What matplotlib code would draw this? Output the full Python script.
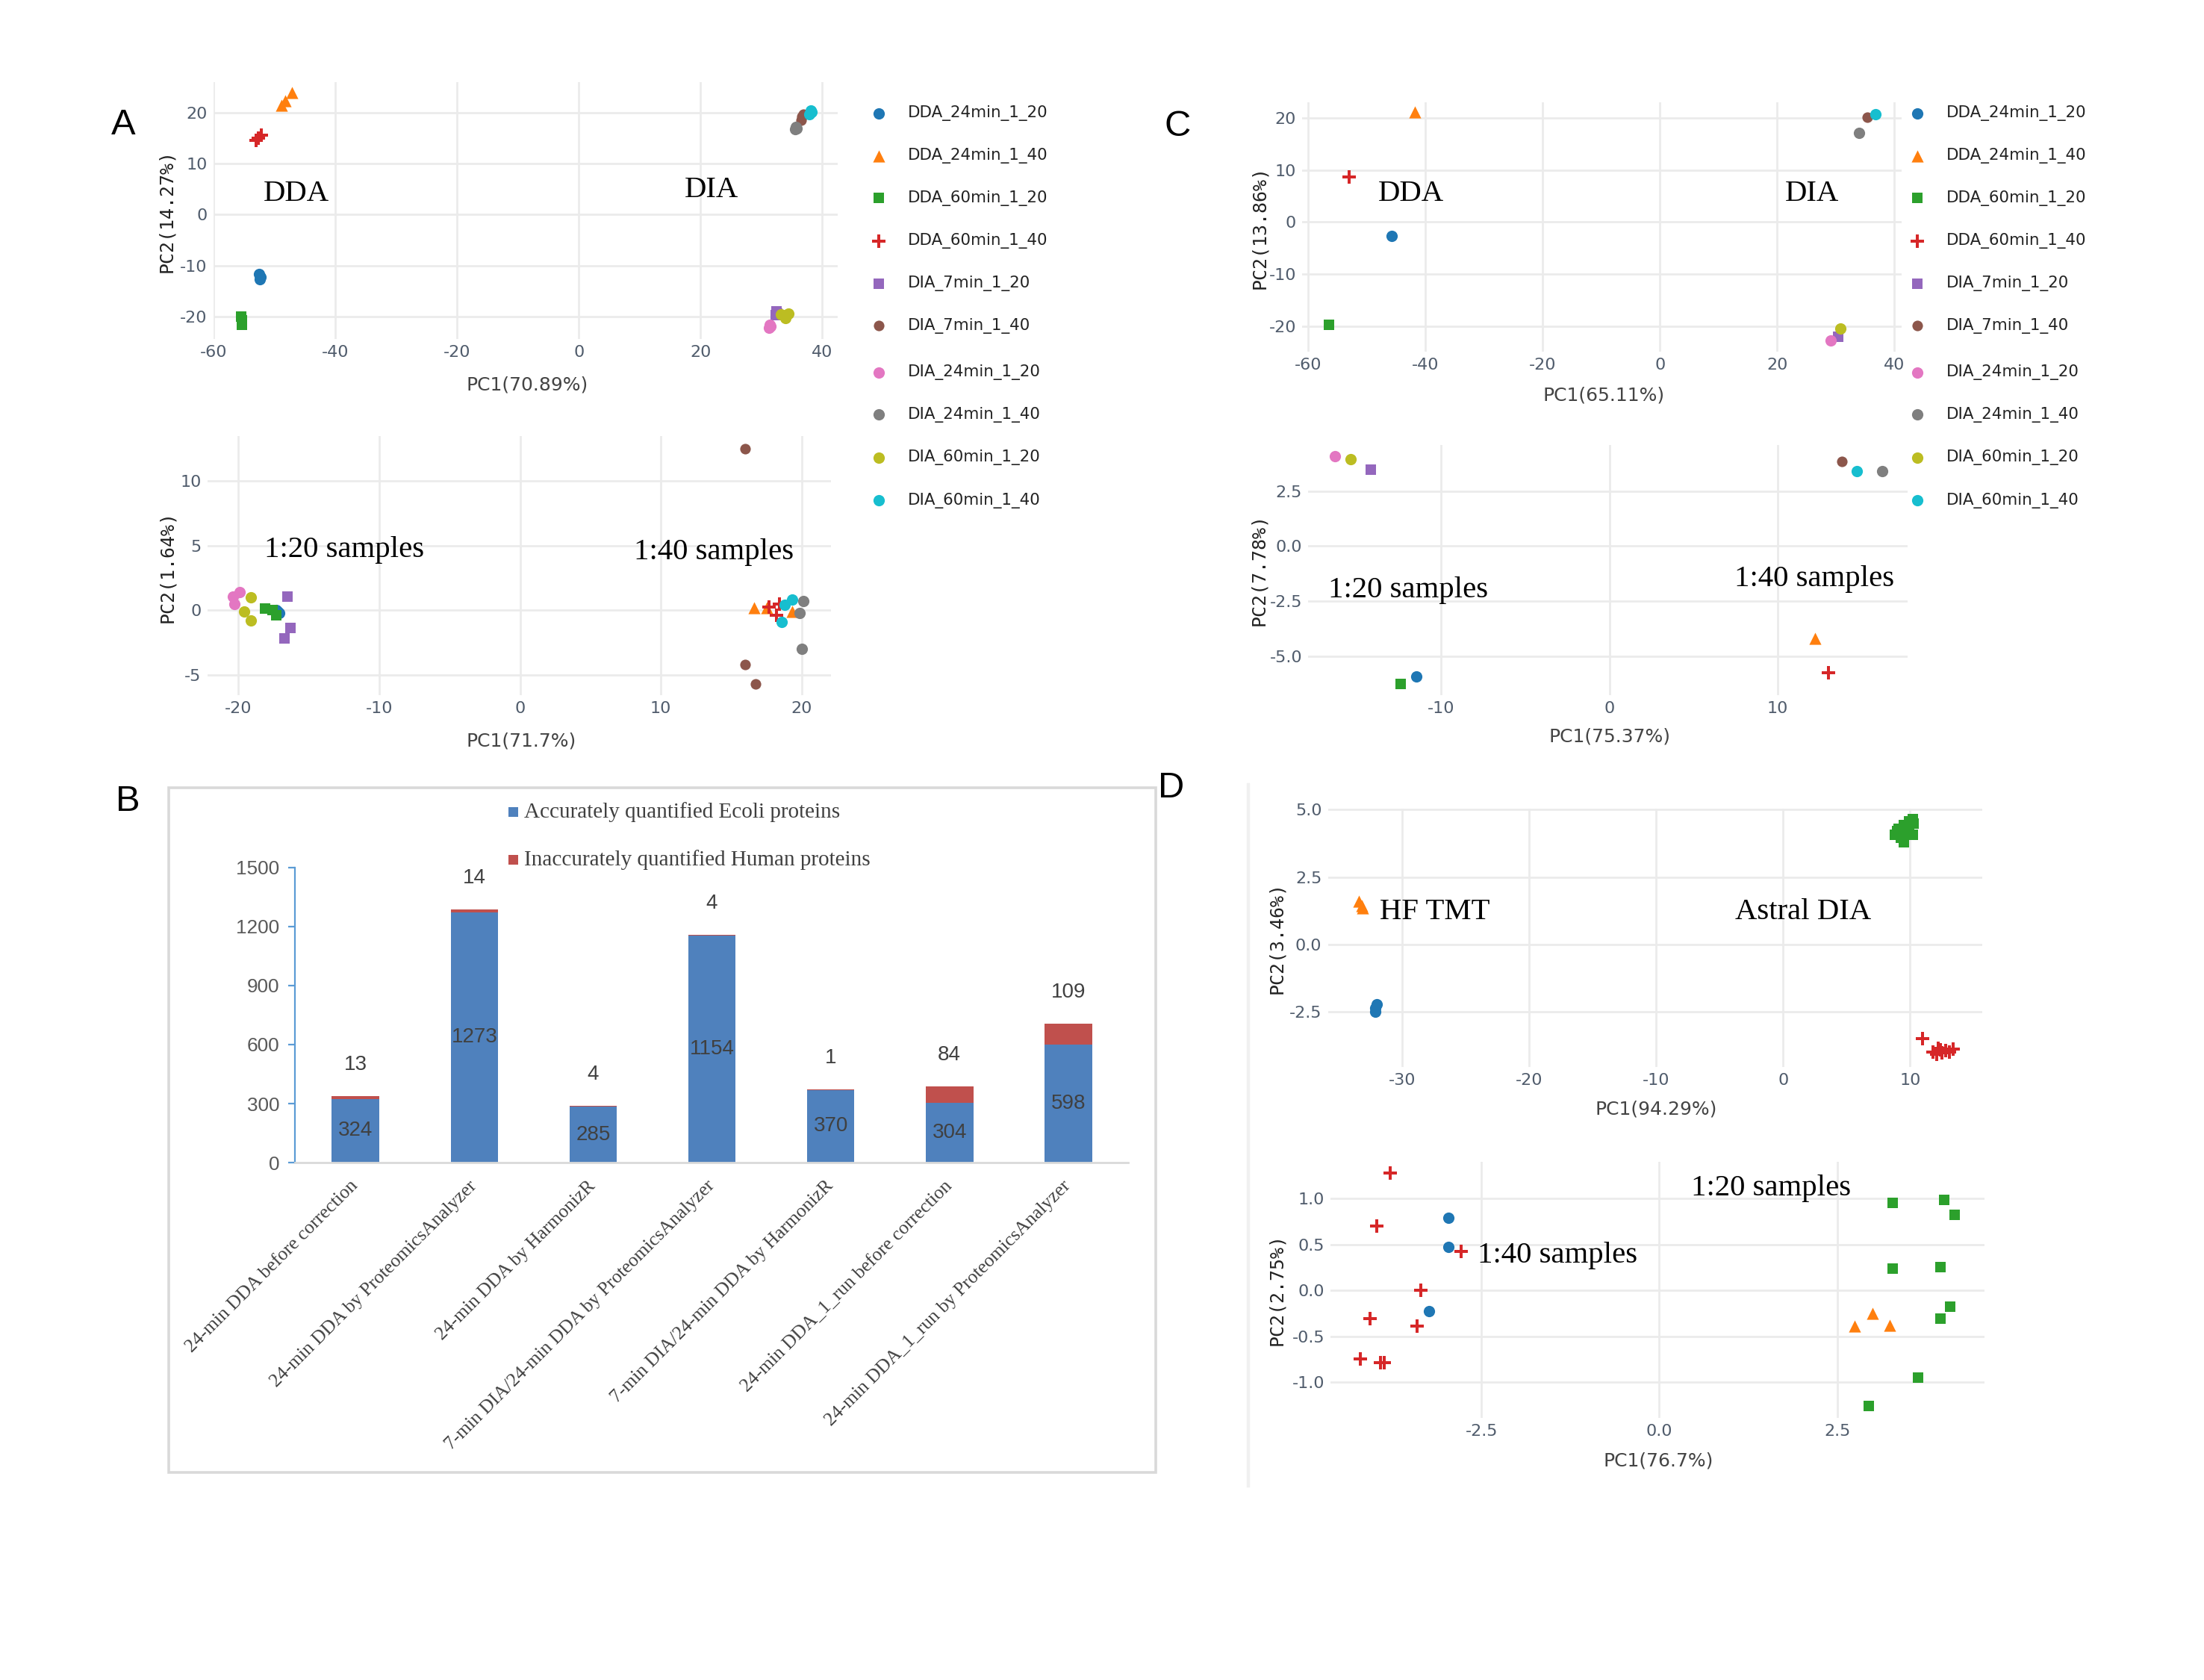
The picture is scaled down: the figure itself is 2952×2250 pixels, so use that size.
import numpy as np
import matplotlib
matplotlib.use('Agg')
import matplotlib.pyplot as plt
from matplotlib.patches import Rectangle
from matplotlib.lines import Line2D

plt.rcParams['axes.unicode_minus'] = False

# ---------------------------------------------------------------- data
# Panel A (upper): PCA of DDA / DIA runs
a1_group = (['DDA_24min_1_20'] * 3 + ['DDA_24min_1_40'] * 3 + ['DDA_60min_1_20'] * 3 +
            ['DDA_60min_1_40'] * 3 + ['DIA_7min_1_20'] * 3 + ['DIA_7min_1_40'] * 3 +
            ['DIA_24min_1_20'] * 3 + ['DIA_24min_1_40'] * 3 + ['DIA_60min_1_20'] * 3 +
            ['DIA_60min_1_40'] * 3)
a1_x = [-52.5, -52.3, -52.4, -47.1, -48.3, -48.9, -55.5, -55.4, -55.3, -52.2, -52.6, -53.0,
        32.5, 32.6, 32.4, 36.7, 36.9, 36.5, 31.4, 31.3, 31.5, 35.7, 35.6, 35.8,
        33.2, 34.4, 33.9, 38.1, 37.9, 38.3]
a1_y = [-11.7, -12.2, -12.7, 24.0, 22.4, 21.5, -20.0, -20.8, -21.6, 15.6, 15.0, 14.6,
        -19.0, -19.5, -19.8, 19.3, 19.8, 18.6, -21.6, -22.3, -22.0, 17.3, 16.8, 17.0,
        -19.6, -19.4, -20.3, 20.4, 19.8, 20.1]

# Panel A (lower): PCA after correction
a2_group = a1_group
a2_x = [-17.2, -17.3, -17.1, 16.6, 17.5, 19.3, -18.1, -17.6, -17.3, 17.7, 18.4, 18.2,
        -16.5, -16.3, -16.75, 16.0, 16.0, 16.7, -20.3, -19.9, -20.4, 20.1, 19.85, 20.0,
        -19.1, -19.6, -19.1, 19.3, 18.8, 18.6]
a2_y = [-0.1, 0.0, -0.2, 0.2, 0.2, -0.1, 0.1, 0.0, -0.4, 0.25, 0.5, -0.4,
        1.05, -1.4, -2.2, 12.5, -4.2, -5.7, 0.5, 1.4, 1.05, 0.7, -0.2, -3.0,
        1.0, -0.1, -0.8, 0.8, 0.4, -0.9]

# Panel C (upper / lower)
c_group = ['DDA_24min_1_20', 'DDA_24min_1_40', 'DDA_60min_1_20', 'DDA_60min_1_40',
           'DIA_7min_1_20', 'DIA_7min_1_40', 'DIA_24min_1_20', 'DIA_24min_1_40',
           'DIA_60min_1_20', 'DIA_60min_1_40']
c1_x = [-45.8, -41.8, -56.5, -53.0, 30.4, 35.4, 29.1, 34.0, 30.8, 36.7]
c1_y = [-2.7, 21.1, -19.8, 8.7, -22.0, 20.2, -22.8, 17.2, -20.5, 20.8]
c2_x = [-11.5, 12.2, -12.4, 13.0, -14.2, 13.8, -16.3, 16.2, -15.4, 14.7]
c2_y = [-5.9, -4.2, -6.24, -5.74, 3.48, 3.86, 4.08, 3.4, 3.96, 3.4]

# Panel D (upper): HF TMT vs Astral DIA
d1_group = (['trace0'] * 3 + ['trace1'] * 3 + ['trace2'] * 12 + ['trace3'] * 9)
d1_x = [-32.0, -32.1, -32.1, -33.4, -33.2, -33.1,
        10.2, 10.3, 9.9, 9.5, 8.95, 8.8, 9.3, 9.5, 10.2, 9.7, 9.1, 9.9,
        11.0, 11.8, 12.2, 12.5, 12.8, 13.1, 13.4, 12.4, 12.1]
d1_y = [-2.2, -2.35, -2.5, 1.62, 1.45, 1.35,
        4.66, 4.47, 4.29, 4.43, 4.2, 4.06, 3.97, 3.78, 4.06, 4.1, 4.29, 4.57,
        -3.48, -3.97, -3.83, -4.01, -3.92, -3.97, -3.86, -3.9, -4.06]

# Panel D (lower)
d2_group = (['trace0'] * 3 + ['trace1'] * 3 + ['trace2'] * 9 + ['trace3'] * 9)
d2_x = [-2.97, -2.97, -3.24, 2.75, 3.0, 3.24,
        3.28, 4.01, 4.15, 3.28, 3.95, 4.09, 3.95, 3.64, 2.95,
        -3.79, -3.97, -2.79, -3.35, -4.07, -3.41, -4.20, -3.92, -3.87]
d2_y = [0.79, 0.47, -0.23, -0.39, -0.25, -0.38,
        0.95, 0.98, 0.82, 0.24, 0.25, -0.18, -0.31, -0.95, -1.26,
        1.28, 0.70, 0.42, 0.0, -0.31, -0.39, -0.75, -0.79, -0.79]

# Panel B: stacked bars
b_categories = ['24-min DDA before correction',
                '24-min DDA by ProteomicsAnalyzer',
                '24-min DDA by HarmonizR',
                '7-min DIA/24-min DDA by ProteomicsAnalyzer',
                '7-min DIA/24-min DDA by HarmonizR',
                '24-min DDA_1_run before correction',
                '24-min DDA_1_run by ProteomicsAnalyzer']
b_ecoli = [324, 1273, 285, 1154, 370, 304, 598]
b_human = [13, 14, 4, 4, 1, 84, 109]
b_series = ['Accurately quantified Ecoli proteins', 'Inaccurately quantified Human proteins']

legend_labels = c_group

# ---------------------------------------------------------------- style
W, H = 1568.0, 1195.0          # layout grid (reference at reduced scale)
SANS = 'DejaVu Sans'
MONO = 'DejaVu Sans Mono'
SERIF = 'Liberation Serif'
ARIAL = 'Liberation Sans'
TICKCOL = '#505c6c'

PLUS = [(-0.2, -1), (0.2, -1), (0.2, -0.2), (1, -0.2), (1, 0.2), (0.2, 0.2), (0.2, 1),
        (-0.2, 1), (-0.2, 0.2), (-1, 0.2), (-1, -0.2), (-0.2, -0.2), (-0.2, -1)]

STYLE = {
    'DDA_24min_1_20': ('#1f77b4', 'o', 30),
    'DDA_24min_1_40': ('#ff7f0e', '^', 34),
    'DDA_60min_1_20': ('#2ca02c', 's', 26),
    'DDA_60min_1_40': ('#d62728', PLUS, 44),
    'DIA_7min_1_20': ('#9467bd', 's', 26),
    'DIA_7min_1_40': ('#8c564b', 'o', 26),
    'DIA_24min_1_20': ('#e377c2', 'o', 30),
    'DIA_24min_1_40': ('#7f7f7f', 'o', 30),
    'DIA_60min_1_20': ('#bcbd22', 'o', 30),
    'DIA_60min_1_40': ('#17becf', 'o', 30),
    'trace0': ('#1f77b4', 'o', 30),
    'trace1': ('#ff7f0e', '^', 34),
    'trace2': ('#2ca02c', 's', 26),
    'trace3': ('#d62728', PLUS, 44),
}

fig = plt.figure(figsize=(14.76, 11.25), dpi=200)


def add_box(l, t, r, b):
    return fig.add_axes([l / W, 1 - b / H, (r - l) / W, (b - t) / H])


def pca_axes(box, xlim, ylim, xticks, yticks, xfmt='{:g}', yfmt='{:g}'):
    ax = add_box(*box)
    ax.set_xlim(xlim)
    ax.set_ylim(ylim)
    ax.set_xticks(xticks)
    ax.set_yticks(yticks)
    ax.set_xticklabels([xfmt.format(v) for v in xticks], fontfamily=SANS)
    ax.set_yticklabels([yfmt.format(v) for v in yticks], fontfamily=SANS)
    for s in ax.spines.values():
        s.set_visible(False)
    ax.grid(True, color='#ebebeb', lw=1.0)
    ax.set_axisbelow(True)
    ax.tick_params(length=0, labelsize=8, labelcolor=TICKCOL, pad=3)
    ax.patch.set_alpha(0)
    return ax


def draw_points(ax, grp, xs, ys):
    order = []
    for g in grp:
        if g not in order:
            order.append(g)
    for g in order:
        px = [x for gg, x in zip(grp, xs) if gg == g]
        py = [y for gg, y in zip(grp, ys) if gg == g]
        col, mk, sz = STYLE[g]
        ax.scatter(px, py, s=sz, c=col, marker=mk, linewidths=0, zorder=3, clip_on=False)


# ---- Panel A
axA1 = pca_axes((152, 58.3, 595.8, 241), (-60, 42.5), (-24.4, 26.07),
                [-60, -40, -20, 0, 20, 40], [-20, -10, 0, 10, 20])
draw_points(axA1, a1_group, a1_x, a1_y)

axA2 = pca_axes((147.6, 310.2, 591.4, 494.2), (-22.2, 22.1), (-6.54, 13.46),
                [-20, -10, 0, 10, 20], [-5, 0, 5, 10])
draw_points(axA2, a2_group, a2_x, a2_y)

# ---- Panel C
axC1 = pca_axes((926.6, 72.9, 1352.8, 250.1), (-61, 41.2), (-24.9, 23),
                [-60, -40, -20, 0, 20, 40], [-20, -10, 0, 10, 20])
draw_points(axC1, c_group, c1_x, c1_y)

axC2 = pca_axes((930.8, 316.4, 1357, 494.3), (-17.9, 17.7), (-6.75, 4.6),
                [-10, 0, 10], [-5, -2.5, 0, 2.5], yfmt='{:.1f}')
draw_points(axC2, c_group, c2_x, c2_y)

# ---- Panel D
axD1 = pca_axes((944.8, 575.3, 1410.4, 758.7), (-35.85, 15.7), (-4.52, 5.03),
                [-30, -20, -10, 0, 10], [-2.5, 0, 2.5, 5.0], yfmt='{:.1f}')
draw_points(axD1, d1_group, d1_x, d1_y)

axD2 = pca_axes((946.8, 826.3, 1411.7, 1008.6), (-4.62, 4.57), (-1.39, 1.40),
                [-2.5, 0, 2.5], [-1.0, -0.5, 0, 0.5, 1.0], xfmt='{:.1f}', yfmt='{:.1f}')
draw_points(axD2, d2_group, d2_x, d2_y)

# ---- Panel B
axB = add_box(209.7, 617, 802.5, 827)
xb = np.arange(len(b_categories))
axB.bar(xb, b_ecoli, width=0.4, color='#4F81BD', zorder=2)
axB.bar(xb, b_human, bottom=b_ecoli, width=0.4, color='#C0504D', zorder=2)
axB.set_xlim(-0.512, 6.503)
axB.set_ylim(0, 1500)
axB.set_yticks([0, 300, 600, 900, 1200, 1500])
axB.set_yticklabels(['0', '300', '600', '900', '1200', '1500'], fontfamily=ARIAL)
axB.set_xticks(xb)
axB.set_xticklabels(b_categories, rotation=45, ha='right', va='center',
                    rotation_mode='anchor', fontfamily=SERIF, fontsize=9.2, color='#404040')
axB.tick_params(axis='x', length=0, pad=10)
axB.tick_params(axis='y', length=3.4, width=0.8, color='#5B9BD5', labelsize=9.4,
                labelcolor='#595959', pad=4)
for s in ('top', 'right'):
    axB.spines[s].set_visible(False)
axB.spines['left'].set_color('#5B9BD5')
axB.spines['left'].set_linewidth(0.8)
axB.spines['bottom'].set_color('#D9D9D9')
axB.spines['bottom'].set_linewidth(1.0)
axB.patch.set_alpha(0)
for i, (e, h) in enumerate(zip(b_ecoli, b_human)):
    axB.text(i, e / 2.0, str(e), ha='center', va='center', fontsize=10,
             fontfamily=ARIAL, color='#404040', zorder=4)
    axB.text(i, e + h + 159, str(h), ha='center', va='center', fontsize=10,
             fontfamily=ARIAL, color='#404040', zorder=4)

# ---------------------------------------------------------------- overlay texts
ov = fig.add_axes([0, 0, 1, 1])
ov.set_xlim(0, W)
ov.set_ylim(H, 0)
ov.axis('off')
ov.patch.set_alpha(0)

# panel letters
for letter, (lx, ly) in zip('ABCD', [(88, 95.6), (91, 577), (837.5, 96.6), (833, 567)]):
    ov.text(lx, ly, letter, ha='center', va='baseline', fontsize=17.6,
            fontfamily=ARIAL, color='black')

# in-plot annotations (serif)
annotations = [
    ('DDA', 211, 138), ('DIA', 506, 135),
    ('1:20 samples', 245, 391), ('1:40 samples', 508, 393),
    ('DDA', 1004, 138), ('DIA', 1289, 138),
    ('1:20 samples', 1002, 420), ('1:40 samples', 1291, 412),
    ('HF TMT', 1021, 649), ('Astral DIA', 1283, 649),
    ('1:20 samples', 1260, 845), ('1:40 samples', 1108, 893),
]
for txt, tx, ty in annotations:
    ov.text(tx, ty, txt, ha='center', va='center', fontsize=14.7,
            fontfamily=SERIF, color='black')

# axis titles
xtitles = [('PC1(70.89%)', 375, 274), ('PC1(71.7%)', 371, 527),
           ('PC1(65.11%)', 1141, 281), ('PC1(75.37%)', 1145, 524),
           ('PC1(94.29%)', 1178, 789), ('PC1(76.7%)', 1180, 1039)]
for txt, tx, ty in xtitles:
    ov.text(tx, ty, txt, ha='center', va='center', fontsize=9, fontfamily=SANS,
            color='#444444')
ytitles = [('PC2(14.27%)', 118.6, 150), ('PC2(1.64%)', 119, 403),
           ('PC2(13.86%)', 896, 161.5), ('PC2(7.78%)', 895.5, 405.5),
           ('PC2(3.46%)', 908.5, 667), ('PC2(2.75%)', 908.5, 917)]
for txt, tx, ty in ytitles:
    ov.text(tx, ty, txt, ha='center', va='center', rotation=90, fontsize=9,
            fontfamily=MONO, color='#222222')

# legends for A and C
rows = [80.6, 110.9, 140.9, 171.3, 201.8, 231.8, 264.8, 295.0, 325.4, 356.0]
for mx, tx in [(625, 646), (1363.8, 1384.9)]:
    for name, ry in zip(legend_labels, rows):
        col, mk, sz = STYLE[name]
        ov.scatter([mx], [ry], s=sz, c=col, marker=mk, linewidths=0, clip_on=False)
        ov.text(tx, ry, name, ha='left', va='center', fontsize=7.7, fontfamily=SANS,
                color='#222222')

# legend for B
for (ly, lab, col) in [(577.7, b_series[0], '#4F81BD'), (611.7, b_series[1], '#C0504D')]:
    ov.add_patch(Rectangle((365 - 3.5, ly - 3.5), 7, 7, color=col, lw=0))
    ov.text(372.8, ly, lab, ha='left', va='center', fontsize=10.5, fontfamily=SERIF,
            color='#404040')

# frame around panel B and divider next to panel D
ov.add_patch(Rectangle((120, 560.5), 702, 487, fill=False, edgecolor='#D9D9D9', lw=1.3))
ov.add_line(Line2D([888, 888], [558, 1057], color='#f0f0f0', lw=1.6))

fig.savefig('out.png', dpi=200, facecolor='white')
